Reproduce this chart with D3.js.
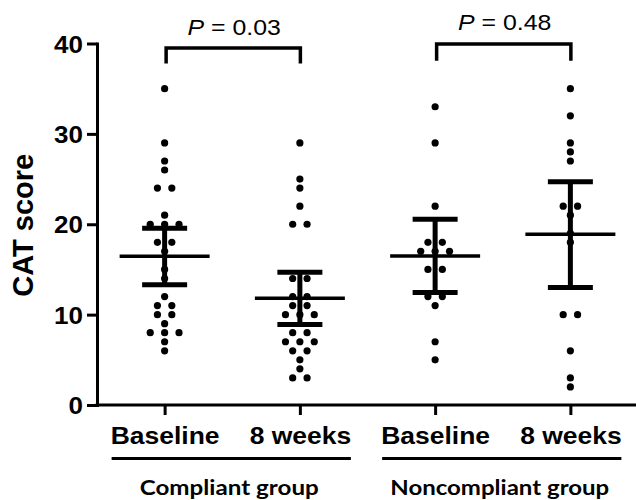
<!DOCTYPE html>
<html>
<head>
<meta charset="utf-8">
<script src="https://cdn.jsdelivr.net/npm/d3@7"></script>
<style>
  html, body { margin: 0; padding: 0; background: #fff; }
  svg { display: block; }
</style>
</head>
<body>
<svg id="chart" width="636" height="500"></svg>
<script>
// ---- Data ----
const categoryLabels = ["Baseline", "8 weeks", "Baseline", "8 weeks"];
const groupLabels = ["Compliant group", "Noncompliant group"];
const groupMembers = [[0, 1], [2, 3]];

const compliantBaseline = [35, 29, 27, 26, 24, 24, 21, 20, 20, 20, 18, 18, 17, 15, 14, 12, 11, 11, 10, 10, 9, 8, 8, 8, 7, 6];
const compliant8Weeks   = [29, 25, 24, 22, 20, 20, 14, 14, 12, 12, 11, 11, 10, 10, 10, 8, 8, 7, 7, 7, 6, 6, 5, 4, 3, 3];
const noncompliantBaseline = [33, 29, 22, 18, 18, 17, 17, 17, 15, 15, 12, 12, 11, 7, 5];
const noncompliant8Weeks   = [35, 32, 29, 28, 27, 22, 22, 21, 19, 18, 10, 10, 6, 3, 2];
const seriesValues = [compliantBaseline, compliant8Weeks, noncompliantBaseline, noncompliant8Weeks];

const means  = [16.45, 11.8, 16.5, 18.9];
const ciLow  = [13.3, 8.9, 12.45, 13.0];
const ciHigh = [19.55, 14.7, 20.55, 24.7];

const yTicks = [0, 10, 20, 30, 40];

const comparisons = [
  { from: 0, to: 1, label: "0.03", level: 39.5, legBottom: 37.8 },
  { from: 2, to: 3, label: "0.48", level: 39.95, legBottom: 38.1 }
];

// ---- Layout ----
const svg = d3.select("#chart");
const font = "'Liberation Sans', Arial, Helvetica, sans-serif";

const x = d3.scalePoint().domain(d3.range(categoryLabels.length)).range([97, 638]).padding(0.5);
const y = d3.scaleLinear().domain([0, 40]).range([405, 43.5]);

function stretch(sel, factor) {
  sel.each(function () {
    const len = this.getComputedTextLength();
    d3.select(this).attr("textLength", len * factor).attr("lengthAdjust", "spacingAndGlyphs");
  });
}

// Y axis
const yAxis = svg.append("g")
  .attr("transform", `translate(${x.range()[0]},0)`)
  .call(d3.axisLeft(y).tickValues(yTicks).tickSize(10).tickSizeOuter(0).tickPadding(4));
yAxis.select(".domain").attr("stroke", "#000").attr("stroke-width", 3).attr("stroke-linecap", "square");
yAxis.selectAll(".tick line").attr("stroke", "#000").attr("stroke-width", 3);
yAxis.selectAll(".tick text")
  .attr("fill", "#000")
  .style("font-family", font).style("font-weight", "bold").style("font-size", "23px")
  .attr("dy", "0.37em");
stretch(yAxis.selectAll(".tick text"), 1.13);

// X axis
const xAxis = svg.append("g")
  .attr("transform", `translate(0,${y(0)})`)
  .call(d3.axisBottom(x).tickSize(10).tickSizeOuter(0).tickPadding(13).tickFormat(i => categoryLabels[i]));
xAxis.select(".domain").attr("stroke", "#000").attr("stroke-width", 3).attr("stroke-linecap", "square")
  .attr("d", `M${x.range()[0]},0H636`);
xAxis.selectAll(".tick line").attr("stroke", "#000").attr("stroke-width", 3);
xAxis.selectAll(".tick text")
  .attr("fill", "#000")
  .style("font-family", font).style("font-weight", "bold").style("font-size", "23px");
stretch(xAxis.selectAll(".tick text"), 1.15);

// Group underlines and labels
const groupTargetWidths = [179, 219];
groupMembers.forEach((members, gi) => {
  const x0 = x(members[0]) - 53;
  const x1 = x(members[members.length - 1]) + 51;
  svg.append("line")
    .attr("x1", x0).attr("x2", x1)
    .attr("y1", 458.5).attr("y2", 458.5)
    .attr("stroke", "#000").attr("stroke-width", 3);
  svg.append("text")
    .attr("x", (x0 + x1) / 2 - 2)
    .attr("y", 494.5)
    .attr("text-anchor", "middle")
    .style("font-family", "Lato, 'Open Sans', sans-serif")
    .style("font-weight", "bold")
    .style("font-size", "21.5px")
    .attr("textLength", groupTargetWidths[gi])
    .attr("lengthAdjust", "spacingAndGlyphs")
    .text(groupLabels[gi]);
});

// Y axis title
svg.append("text")
  .attr("transform", `translate(33,${y(20) + 1}) rotate(-90)`)
  .attr("text-anchor", "middle")
  .style("font-family", font).style("font-weight", "bold").style("font-size", "29px")
  .text("CAT score");

// Dots (rows of equal values spread horizontally)
const dotSpacing = 14.4;
seriesValues.forEach((vals, ci) => {
  const counts = d3.rollup(vals, v => v.length, v => v);
  const pts = [];
  counts.forEach((k, v) => {
    for (let i = 0; i < k; i++) pts.push({ v, off: (i - (k - 1) / 2) * dotSpacing });
  });
  svg.append("g").selectAll("circle").data(pts).join("circle")
    .attr("cx", d => x(ci) + d.off)
    .attr("cy", d => y(d.v))
    .attr("r", 3.6)
    .attr("fill", "#000");
});

// Mean and 95% CI bars
const eb = svg.append("g").attr("stroke", "#000");
categoryLabels.forEach((_, ci) => {
  const cx = x(ci);
  eb.append("line").attr("x1", cx).attr("x2", cx).attr("y1", y(ciHigh[ci])).attr("y2", y(ciLow[ci])).attr("stroke-width", 5);
  eb.append("line").attr("x1", cx - 22.5).attr("x2", cx + 22.5).attr("y1", y(ciHigh[ci])).attr("y2", y(ciHigh[ci])).attr("stroke-width", 5);
  eb.append("line").attr("x1", cx - 22.5).attr("x2", cx + 22.5).attr("y1", y(ciLow[ci])).attr("y2", y(ciLow[ci])).attr("stroke-width", 5);
  eb.append("line").attr("x1", cx - 45).attr("x2", cx + 45).attr("y1", y(means[ci])).attr("y2", y(means[ci])).attr("stroke-width", 3.5);
});

// Significance brackets
comparisons.forEach(c => {
  const xa = x(c.from) + 1.5, xb = x(c.to) + 0.5;
  const yl = y(c.level), yb = y(c.legBottom);
  svg.append("path")
    .attr("d", `M${xa},${yb}V${yl}H${xb}V${yb}`)
    .attr("fill", "none").attr("stroke", "#000").attr("stroke-width", 3.5)
    .attr("stroke-linejoin", "miter");
  const g = svg.append("g")
    .attr("transform", `translate(${(xa + xb) / 2 + 1},${yl - 13.5}) scale(1.13,1)`);
  const t = g.append("text")
    .attr("text-anchor", "middle")
    .style("font-family", font).style("font-size", "22px");
  t.append("tspan").style("font-style", "italic").text("P");
  t.append("tspan").text(" = " + c.label);
});
</script>
</body>
</html>
